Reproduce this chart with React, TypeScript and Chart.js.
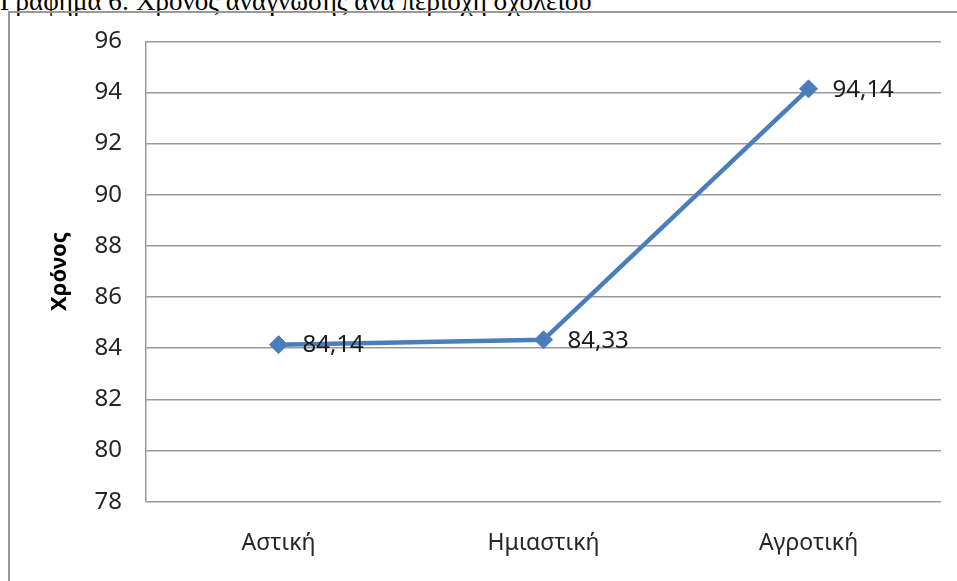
import React, { useEffect, useRef } from "react";
import { Chart, registerables } from "chart.js";

Chart.register(...registerables);

// Reading time by school area
const areas: string[] = ["Αστική", "Ημιαστική", "Αγροτική"];
const readingTime: number[] = [84.14, 84.33, 94.14];
const yMin = 78;
const yMax = 96;
const yStep = 2;

const chartTitle = "Γράφημα 6: Χρόνος ανάγνωσης ανά περιοχή σχολείου";
const yTitle = "Χρόνος";

const LINE_BLUE = "#4A7EBB";
const GRID_GREY = "#999999";
const FONT = "'Noto Sans', 'Open Sans', sans-serif";

const fmt = (v: number) => v.toFixed(2).replace(".", ",");

// Writes each point's value just to the right of its marker
const valueLabels = {
  id: "valueLabels",
  afterDatasetsDraw(chart: any) {
    const { ctx } = chart;
    const meta = chart.getDatasetMeta(0);
    const values = chart.data.datasets[0].data as number[];
    ctx.save();
    ctx.font = `24px ${FONT}`;
    ctx.fillStyle = "#1a1a1a";
    ctx.textAlign = "left";
    ctx.textBaseline = "middle";
    meta.data.forEach((pt: any, i: number) => {
      ctx.fillText(fmt(values[i]), pt.x + 24, pt.y + 1);
    });
    ctx.restore();
  },
};

export default function App() {
  const canvasRef = useRef<HTMLCanvasElement | null>(null);

  useEffect(() => {
    if (!canvasRef.current) return;
    const chart = new Chart(canvasRef.current, {
      type: "line",
      data: {
        labels: areas,
        datasets: [
          {
            data: readingTime,
            borderColor: LINE_BLUE,
            backgroundColor: LINE_BLUE,
            borderWidth: 4.5,
            pointStyle: "rectRot",
            pointRadius: 9,
            pointHoverRadius: 9,
            pointBackgroundColor: LINE_BLUE,
            pointBorderColor: LINE_BLUE,
            pointBorderWidth: 1,
            tension: 0,
          },
        ],
      },
      options: {
        responsive: false,
        maintainAspectRatio: false,
        animation: false,
        devicePixelRatio: 1,
        layout: { padding: { top: 28.3, right: 16, bottom: 0, left: 0 } },
        plugins: {
          legend: { display: false },
          tooltip: { enabled: false },
          title: { display: false },
        },
        scales: {
          x: {
            offset: true,
            grid: { display: false, drawTicks: false },
            border: { display: false },
            ticks: {
              color: "#262626",
              font: { family: FONT, size: 23 },
              padding: 28,
              maxRotation: 0,
            },
            afterFit: (scale: any) => {
              scale.height = 79.3;
            },
          },
          y: {
            min: yMin,
            max: yMax,
            ticks: {
              stepSize: yStep,
              color: "#262626",
              font: { family: FONT, size: 24 },
              padding: 24,
              callback: (v: any) => String(v),
            },
            grid: {
              color: GRID_GREY,
              lineWidth: 1.5,
              drawTicks: false,
            },
            border: { display: true, color: GRID_GREY, width: 1.5 },
            title: {
              display: true,
              text: yTitle,
              color: "#000",
              font: { family: FONT, size: 22, weight: "bold" },
              padding: { top: 37, bottom: 0 },
            },
            afterFit: (scale: any) => {
              scale.width = 136;
              // plot edges are set by the layout padding alone
              scale.paddingTop = 0;
              scale.paddingBottom = 0;
            },
          },
        },
      },
      plugins: [valueLabels],
    });
    return () => chart.destroy();
  }, []);

  return (
    <div
      style={{
        position: "fixed",
        left: 0,
        top: 0,
        width: 957,
        height: 581,
        overflow: "hidden",
        background: "#fff",
      }}
    >
      <div
        style={{
          position: "absolute",
          left: 0,
          top: -12,
          whiteSpace: "nowrap",
          fontFamily: "'Liberation Serif', 'Times New Roman', serif",
          fontSize: 27,
          lineHeight: "26px",
          color: "#000",
        }}
      >
        {chartTitle}
      </div>
      <div
        style={{
          position: "absolute",
          left: 8,
          top: 11,
          width: 1000,
          height: 620,
          borderLeft: `2px solid ${GRID_GREY}`,
          borderTop: `2px solid ${GRID_GREY}`,
          boxSizing: "border-box",
        }}
      />
      <canvas
        ref={canvasRef}
        width={947}
        height={568}
        style={{ position: "absolute", left: 10, top: 13, width: 947, height: 568 }}
      />
    </div>
  );
}
